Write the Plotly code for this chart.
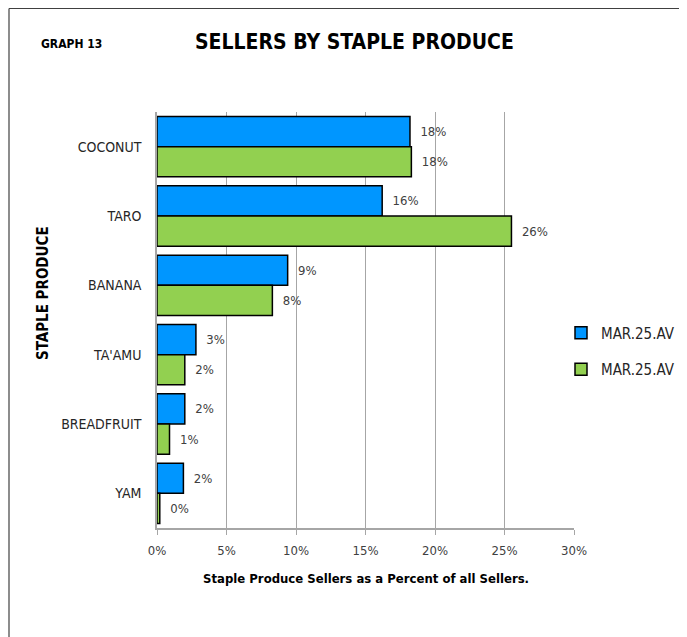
import plotly.graph_objects as go

categories = ["COCONUT", "TARO", "BANANA", "TA'AMU", "BREADFRUIT", "YAM"]
series1_name = "MAR.25.AV"
series2_name = "MAR.25.AV"
series1_values = [18.2, 16.2, 9.4, 2.8, 2.0, 1.9]
series2_values = [18.3, 25.5, 8.3, 2.0, 0.9, 0.2]
x_ticks = [0, 5, 10, 15, 20, 25, 30]
x_tick_labels = ["0%", "5%", "10%", "15%", "20%", "25%", "30%"]

FONT = "DejaVu Sans Condensed, Lato, Roboto, sans-serif"

# the page body adds an 8px offset; lay out in reference pixels minus 8
OFF = 8
W, H = 687 - OFF, 637 - OFF
L, T = 157 - OFF, 112 - OFF
PR, PB = 574 - OFF, 528 - OFF
R, B = W - PR, H - PB
plot_w = W - L - R
plot_h = H - T - B


def px(x):
    return (x - OFF - L) / plot_w


def py(y):
    return (H - B - (y - OFF)) / plot_h


fig = go.Figure()
fig.add_trace(go.Bar(
    y=categories, x=series1_values, name=series1_name, orientation="h",
    legendgroup="a",
    marker=dict(color="#0096FF", line=dict(color="#000000", width=1.5)),
    texttemplate="\u00a0\u00a0%{x:.0f}%", textposition="outside",
    textfont=dict(size=13, color="#404040", family=FONT), cliponaxis=False,
))
fig.add_trace(go.Bar(
    y=categories, x=series2_values, name=series2_name, orientation="h",
    legendgroup="b",
    marker=dict(color="#92D050", line=dict(color="#000000", width=1.5)),
    texttemplate="\u00a0\u00a0%{x:.0f}%", textposition="outside",
    textfont=dict(size=13, color="#404040", family=FONT), cliponaxis=False,
))

fig.update_layout(
    width=W, height=H,
    margin=dict(l=L, r=R, t=T, b=B, autoexpand=False),
    paper_bgcolor="white", plot_bgcolor="white",
    barmode="group", bargap=0.13, bargroupgap=0,
    font=dict(family=FONT, color="#262626"),
    showlegend=True,
    legend=dict(x=px(561), y=py(351), xanchor="left", yanchor="middle",
                font=dict(size=15, color="#262626", family=FONT),
                traceorder="grouped", tracegroupgap=14, itemwidth=30,
                bgcolor="rgba(0,0,0,0)"),
    xaxis=dict(
        range=[0, 30], tickmode="array", tickvals=x_ticks, ticktext=x_tick_labels,
        showgrid=True, gridcolor="#A6A6A6", gridwidth=1,
        showline=True, linecolor="#A6A6A6", linewidth=1.5,
        ticks="outside", ticklen=5, tickcolor="#A6A6A6",
        tickfont=dict(size=13, color="#404040"),
        ticklabelstandoff=5,
        zeroline=False, automargin=False,
    ),
    yaxis=dict(
        autorange="reversed",
        showline=True, linecolor="#A6A6A6", linewidth=1.5,
        showgrid=False, ticks="",
        tickfont=dict(size=14, color="#262626"),
        ticklabelstandoff=11, automargin=False,
    ),
    annotations=[
        dict(text="<b>SELLERS BY STAPLE PRODUCE</b>", xref="paper", yref="paper",
             x=px(354), y=py(42), xanchor="center", yanchor="middle",
             showarrow=False, font=dict(size=21, color="#000000", family=FONT)),
        dict(text="<b>GRAPH 13</b>", xref="paper", yref="paper",
             x=px(39), y=py(44), xanchor="left", yanchor="middle",
             showarrow=False, font=dict(size=12, color="#000000", family=FONT)),
        dict(text="<b>Staple Produce Sellers as a Percent of all Sellers.</b>",
             xref="paper", yref="paper", x=px(366), y=py(578),
             xanchor="center", yanchor="middle",
             showarrow=False, font=dict(size=13, color="#000000", family=FONT)),
        dict(text="<b>STAPLE PRODUCE</b>", xref="paper", yref="paper",
             x=px(43), y=py(293),
             xanchor="center", yanchor="middle", textangle=-90,
             showarrow=False, font=dict(size=15, color="#000000", family=FONT)),
    ],
    shapes=[
        dict(type="line", xref="paper", yref="paper", x0=px(9), x1=px(9),
             y0=py(700), y1=py(8.5), line=dict(color="#404040", width=1.2)),
        dict(type="line", xref="paper", yref="paper", x0=px(9), x1=px(800),
             y0=py(8.5), y1=py(8.5), line=dict(color="#404040", width=1.2)),
    ],
)

fig.write_html("out.html")
